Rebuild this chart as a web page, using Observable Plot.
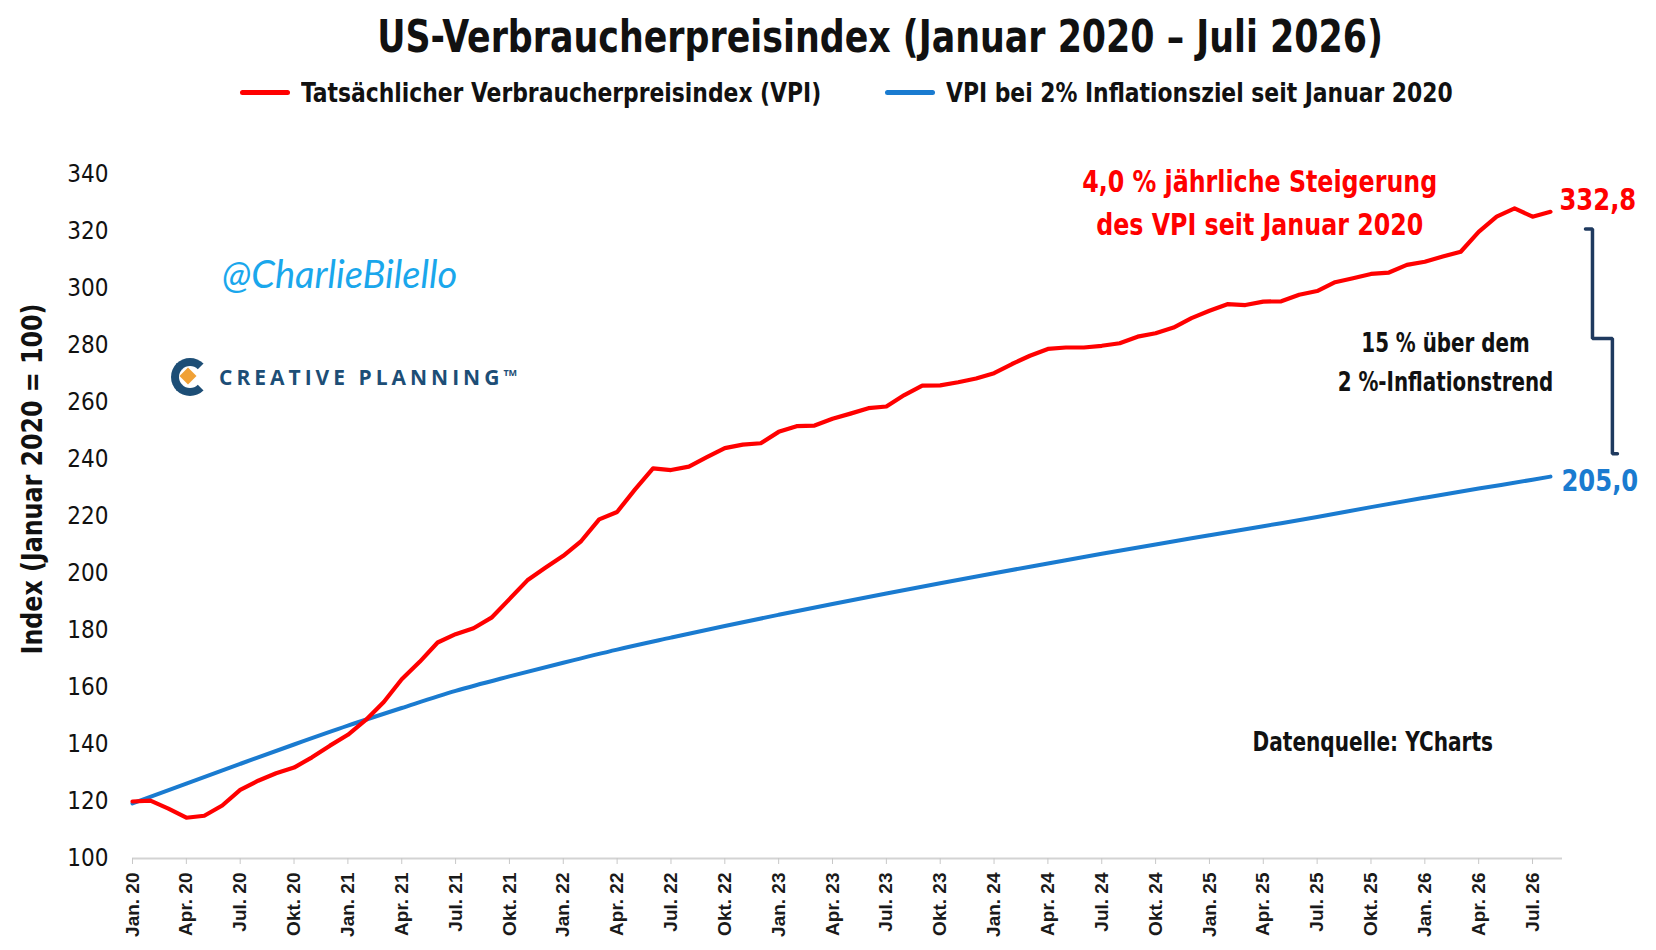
<!DOCTYPE html>
<html>
<head>
<meta charset="utf-8">
<script src="https://cdn.jsdelivr.net/npm/d3@7"></script>
<script src="https://cdn.jsdelivr.net/npm/@observablehq/plot@0.6"></script>
<style>
  html, body { margin: 0; padding: 0; background: #ffffff; }
  #wrap { position: relative; width: 1656px; height: 950px; overflow: hidden; background: #fff; }
  .narrow { font-family: 'Liberation Sans Narrow', 'Arial Narrow', 'DejaVu Sans Condensed', sans-serif; }
  #title { position: absolute; left: 880px; top: 15px; transform: translateX(-50%) scaleX(0.88); white-space: nowrap;
           font-size: 44px; font-weight: bold; line-height: 44px; color: #111; }
  .leg { position: absolute; top: 77px; height: 30px; display: flex; align-items: center; white-space: nowrap;
         font-size: 27px; font-weight: bold; color: #111; }
  .leg .sw { width: 50px; height: 5px; border-radius: 3px; margin-right: 11px; flex: none; }
  .leg .lt { display: inline-block; transform: scaleX(0.9); transform-origin: left center; }
  #ytitle { position: absolute; left: 32px; top: 479px; transform: translate(-50%, -50%) rotate(-90deg) scaleX(0.91);
            white-space: nowrap; font-size: 29px; font-weight: bold; color: #111; }
  #chart { position: absolute; left: 0; top: 120px; }
  #handle { position: absolute; left: 222px; top: 273px; transform: translateY(-50%); white-space: nowrap;
            font-family: Lato, 'Open Sans', sans-serif; font-style: italic; font-size: 38px; color: #1aa7ec; }
  #logo { position: absolute; left: 171px; top: 357px; height: 40px; display: flex; align-items: center; }
  #logo .ring { position: relative; width: 22px; height: 22px; border: 8px solid #1d4e76; border-right-color: transparent;
                border-radius: 50%; }
  #logo .dia { position: absolute; left: 3px; top: 4px; width: 12px; height: 12px; background: #f0a136; transform: rotate(45deg); }
  #logo .txt { margin-left: 10px; font-family: 'Open Sans', 'Liberation Sans', sans-serif; font-weight: bold; font-size: 21px;
               letter-spacing: 4px; color: #1d4e76; white-space: nowrap; }
  #logo .tm { font-size: 9px; letter-spacing: 0; vertical-align: 9px; }
</style>
</head>
<body>
<div id="wrap">
  <div id="title" class="narrow">US-Verbraucherpreisindex (Januar 2020 – Juli 2026)</div>
  <div class="leg narrow" style="left:240px"><span class="sw" style="background:#ff0000"></span><span class="lt" id="leg1"></span></div>
  <div class="leg narrow" style="left:885px"><span class="sw" style="background:#1a7bd0"></span><span class="lt" id="leg2"></span></div>
  <div id="ytitle" class="narrow">Index (Januar 2020 = 100)</div>
  <div id="chart"></div>
  <div id="handle">@CharlieBilello</div>
  <div id="logo"><div class="ring"><div class="dia"></div></div><div class="txt">CREATIVE PLANNING<span class="tm">TM</span></div></div>
</div>
<script>
// ---------- data ----------
const seriesNames = ["Tatsächlicher Verbraucherpreisindex (VPI)", "VPI bei 2% Inflationsziel seit Januar 2020"];

// month index 0 = Jan 2020 ... 79 = Aug 2026
const cpiActual = [
  120.0, 120.3, 117.5, 114.3, 115.0, 118.6, 124.1, 127.3, 129.9, 131.9, 135.5, 139.6,
  143.4, 148.6, 154.9, 162.9, 169.0, 175.8, 178.7, 180.8, 184.5, 191.0, 197.6, 202.0,
  206.2, 211.4, 219.0, 221.6, 229.5, 236.9, 236.3, 237.5, 240.8, 244.0, 245.2, 245.7,
  249.7, 251.7, 251.9, 254.3, 256.1, 258.0, 258.6, 262.6, 265.9, 266.0, 267.1, 268.4,
  270.3, 273.5, 276.4, 278.8, 279.3, 279.3, 279.9, 280.8, 283.1, 284.3, 286.3, 289.6,
  292.2, 294.5, 294.2, 295.4, 295.5, 297.8, 299.1, 302.2, 303.6, 305.1, 305.6, 308.3,
  309.4, 311.2, 312.9, 319.9, 325.2, 328.1, 325.2, 326.9
];

const targetMonths = [0, 3, 6, 9, 12, 15, 18, 21, 24, 27, 30, 33, 36, 39, 42, 45, 48, 51, 54, 57, 60, 63, 66, 69, 72, 75, 78, 79];
const cpiTarget = [
  119.3, 126.3, 133.2, 140.0, 146.6, 152.8, 158.8, 163.9, 168.7, 173.3, 177.5, 181.6,
  185.5, 189.3, 193.0, 196.6, 200.1, 203.5, 206.9, 210.2, 213.4, 216.6, 219.8, 223.3,
  226.6, 229.8, 232.9, 234.0
];

const tickMonths = [0, 3, 6, 9, 12, 15, 18, 21, 24, 27, 30, 33, 36, 39, 42, 45, 48, 51, 54, 57, 60, 63, 66, 69, 72, 75, 78];
const tickLabels = [
  "Jan. 20", "Apr. 20", "Jul. 20", "Okt. 20",
  "Jan. 21", "Apr. 21", "Jul. 21", "Okt. 21",
  "Jan. 22", "Apr. 22", "Jul. 22", "Okt. 22",
  "Jan. 23", "Apr. 23", "Jul. 23", "Okt. 23",
  "Jan. 24", "Apr. 24", "Jul. 24", "Okt. 24",
  "Jan. 25", "Apr. 25", "Jul. 25", "Okt. 25",
  "Jan. 26", "Apr. 26", "Jul. 26"
];
const yTicks = [100, 120, 140, 160, 180, 200, 220, 240, 260, 280, 300, 320, 340];

const endLabels = ["332,8", "205,0"];
const noteGrowth = "4,0 % jährliche Steigerung\ndes VPI seit Januar 2020";
const noteGap = "15 % über dem\n2 %-Inflationstrend";
const noteSource = "Datenquelle: YCharts";

// ---------- build ----------
document.getElementById("leg1").textContent = seriesNames[0];
document.getElementById("leg2").textContent = seriesNames[1];

const NARROW = "'Liberation Sans Narrow', 'Arial Narrow', 'DejaVu Sans Condensed', sans-serif";
const RED = "#ff0000", BLUE = "#1a7bd0", NAVY = "#1f3a5f";

const actual = cpiActual.map((v, i) => ({m: i, v}));
const target = targetMonths.map((m, i) => ({m, v: cpiTarget[i]}));
const lastA = actual[actual.length - 1];
const lastT = target[target.length - 1];
const ticks = tickMonths.map((m, i) => ({m, label: tickLabels[i]}));

// bracket between the two series ends (month units beyond last point)
const bTop = lastA.v - 6, bBot = lastT.v + 8, bMid = (bTop + bBot) / 2 + 1;
const L = lastA.m;
const bracket = [
  {m: L + 1.95, v: bTop}, {m: L + 2.34, v: bTop}, {m: L + 2.34, v: bMid},
  {m: L + 3.45, v: bMid}, {m: L + 3.45, v: bBot}, {m: L + 3.73, v: bBot}
];

const chart = Plot.plot({
  width: 1656,
  height: 830,
  marginLeft: 132,
  marginRight: 94,
  marginTop: 54,
  marginBottom: 92,
  style: {fontFamily: NARROW, background: "transparent", overflow: "visible"},
  x: {domain: [0, 79.67]},
  y: {domain: [100, 340]},
  marks: [
    Plot.ruleY([100], {stroke: "#d3d3d3", strokeWidth: 2}),
    Plot.axisX(tickMonths, {tickFormat: () => "", tickSize: 6, stroke: "#c8c8c8", label: null}),
    Plot.text(ticks, {x: "m", y: () => 100, text: "label", rotate: -90, textAnchor: "end", lineAnchor: "middle",
      dy: 14, fontSize: 19, fontWeight: "bold", fill: "#1a1a1a", fontFamily: "Liberation Sans, Arial, sans-serif"}),
    Plot.axisY(yTicks, {tickSize: 0, tickPadding: 24, fontSize: 24, fill: "#111", label: null}),
    Plot.line(target, {x: "m", y: "v", stroke: BLUE, strokeWidth: 4, curve: "monotone-x", strokeLinecap: "round"}),
    Plot.line(actual, {x: "m", y: "v", stroke: RED, strokeWidth: 4.2, strokeLinejoin: "round", strokeLinecap: "round"}),
    Plot.text([lastA], {x: "m", y: "v", text: () => endLabels[0], dx: 9, dy: -11, textAnchor: "start",
      fill: RED, fontSize: 30, fontWeight: "bold"}),
    Plot.text([lastT], {x: "m", y: "v", text: () => endLabels[1], dx: 11, dy: 5, textAnchor: "start",
      fill: BLUE, fontSize: 30, fontWeight: "bold"}),
    Plot.text([{m: 62.8, v: 331.0}], {x: "m", y: "v", text: () => noteGrowth, fill: RED, fontSize: 30,
      fontWeight: "bold", lineHeight: 1.42}),
    Plot.text([{m: 73.15, v: 275.4}], {x: "m", y: "v", text: () => noteGap, fill: "#111", fontSize: 26,
      fontWeight: "bold", lineHeight: 1.5}),
    Plot.text([{m: 69.1, v: 140.6}], {x: "m", y: "v", text: () => noteSource, fill: "#111", fontSize: 26,
      fontWeight: "bold"}),
    Plot.line(bracket, {x: "m", y: "v", stroke: NAVY, strokeWidth: 3.5, strokeLinecap: "round", strokeLinejoin: "miter"})
  ]
});

// condense annotation text horizontally (no narrow font installed)
const squeeze = [[endLabels[0], 0.9], [endLabels[1], 0.9], ["4,0", 0.88], ["15 %", 0.85], ["Datenquelle", 0.86]];
chart.querySelectorAll("text").forEach(t => {
  const s = t.textContent;
  const hit = squeeze.find(([k]) => s.startsWith(k));
  if (hit) {
    const tr = t.getAttribute("transform") || "";
    t.setAttribute("transform", `${tr} scale(${hit[1]},1)`);
  }
});
document.getElementById("chart").appendChild(chart);
</script>
</body>
</html>
